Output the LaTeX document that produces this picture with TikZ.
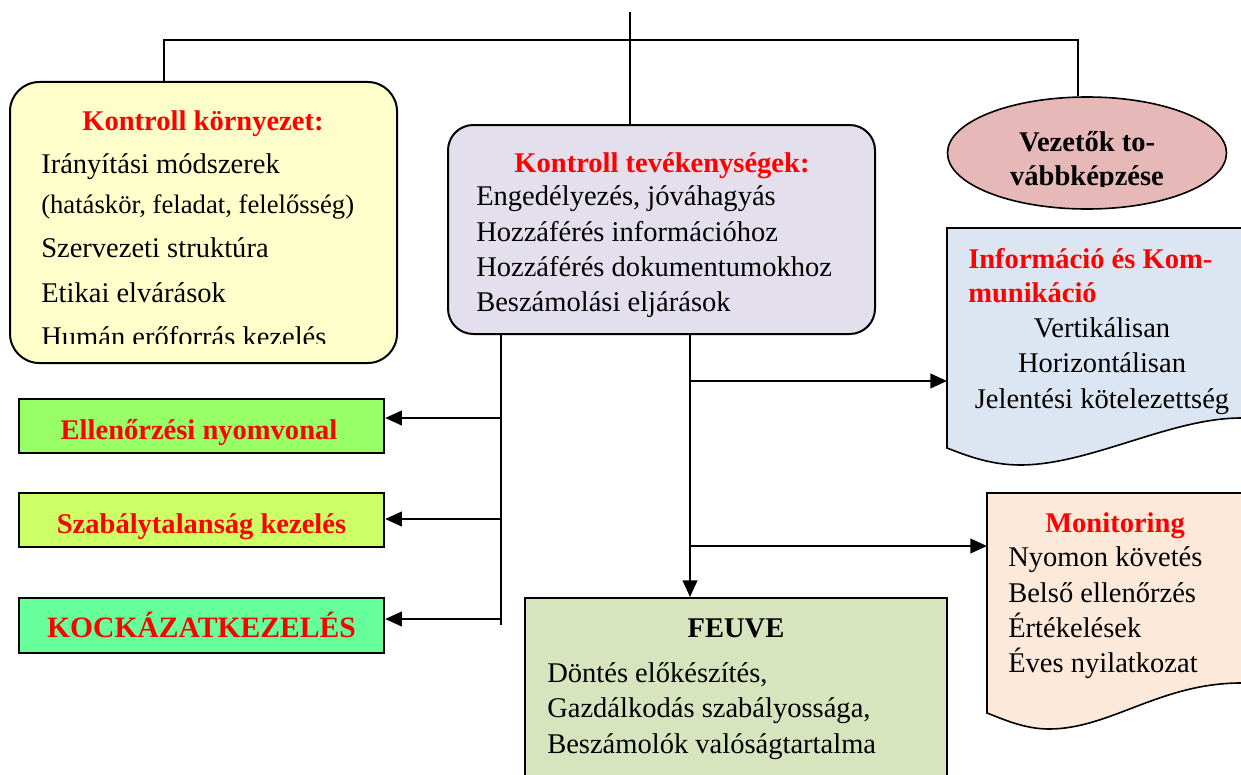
\documentclass[tikz,border=0pt]{standalone}
\usepackage{fontspec}
\setmainfont{Liberation Serif}
\usetikzlibrary{arrows.meta,shapes.geometric}
\definecolor{kred}{HTML}{FF0000}
\definecolor{envc}{HTML}{FFFFCC}
\definecolor{actc}{HTML}{E4DFEC}
\definecolor{gA}{HTML}{99FF66}
\definecolor{gB}{HTML}{CCFF66}
\definecolor{gC}{HTML}{66FF99}
\definecolor{vezc}{HTML}{E6B9B8}
\definecolor{infoc}{HTML}{DCE6F2}
\definecolor{monc}{HTML}{FDE9D9}
\definecolor{feuvec}{HTML}{D7E4BD}
\begin{document}
\begin{tikzpicture}[x=0.75pt,y=-0.75pt,
  box/.style={draw=black, line width=1.5pt, inner sep=0pt},
  gbox/.style={box, line width=1.8pt, minimum width=273.75pt, minimum height=40.5pt},
  txt/.style={inner sep=0pt, anchor=base west, font=\fontsize{21.4}{25}\selectfont},
  ctxt/.style={txt, anchor=base},
  ttl/.style={inner sep=0pt, anchor=base, font=\fontsize{21.4}{25}\selectfont\bfseries, text=kred},
  thin/.style={line width=1.1pt},
  arr/.style={line width=1.5pt, -{Triangle[length=12.5pt,width=11pt]}}]
\clip (0,0) rectangle (1241,774);
\fill[white] (0,0) rectangle (1241,774);

% boxes
\node[box, fill=envc, rounded corners=22pt, minimum width=290.25pt, minimum height=210.75pt] (env) at (203.5,222.5) {};
\node[box, fill=actc, rounded corners=19pt, minimum width=320.25pt, minimum height=156.75pt] (act) at (661.5,229.5) {};
\node[box, ellipse, line width=1.2pt, fill=vezc, minimum width=209.25pt, minimum height=84pt] (vez) at (1087,153) {};
\node[gbox, fill=gA] (g1) at (201.5,426) {};
\node[gbox, fill=gB] (g2) at (201.5,520) {};
\node[gbox, fill=gC, minimum height=41.25pt] (g3) at (201.5,625.5) {};
\node[box, fill=feuvec, minimum width=316.5pt, minimum height=151.5pt] (feuve) at (736,699) {};

% document shapes
\draw[line width=1.2pt, fill=infoc] (947,228) -- (1260,228) -- (1260,418) -- (1241,418)
  .. controls (1170,418) and (1090,465) .. (1020,465)
  .. controls (990,465) and (965,455) .. (947,448) -- cycle;
\draw[line width=1.2pt, fill=monc] (987,493) -- (1260,493) -- (1260,683) -- (1241,683)
  .. controls (1160,683) and (1110,729) .. (1049,729)
  .. controls (1025,729) and (1005,720) .. (987,713) -- cycle;
\coordinate (infoL) at (947,381);
\coordinate (monL) at (987,546);

% top connectors
\coordinate (top) at (630,12);
\coordinate (hl) at (164,40);
\coordinate (hr) at (1078,40);
\draw[thin] (top) -- (top |- act.north);
\draw[thin] (hl |- env.north) -- (hl) -- (hr) -- (hr |- vez.north);

% lower connectors
\coordinate (bl) at (501,625);
\coordinate (br) at (690,381);
\draw[line width=1.5pt] (bl |- act.south) -- (bl);
\draw[arr] (501,418) -- (g1.east |- 501,418);
\draw[arr] (501,519) -- (g2.east |- 501,519);
\draw[arr] (501,619) -- (g3.east |- 501,619);
\draw[arr] (br |- act.south) -- (br |- feuve.north);
\draw[arr] (br) -- (infoL);
\draw[arr] (br |- monL) -- (monL);

% texts: Kontroll környezet
\node[ttl] (envT) at (203,130) {Kontroll környezet:};
\node[txt] (env1) at (41,173) {Irányítási módszerek};
\node[txt, font=\fontsize{20}{24}\selectfont] (env2) at (41,213) {(hatáskör, feladat, felelősség)};
\node[txt] (env3) at (41,257) {Szervezeti struktúra};
\node[txt] (env4) at (41,302) {Etikai elvárások};
\begin{scope}
\clip (0,0) rectangle (1241,343.5);
\node[txt] (env5) at (41,346) {Humán erőforrás kezelés};
\end{scope}

% Kontroll tevékenységek
\node[ttl] (actT) at (662,172) {Kontroll tevékenységek:};
\node[txt] (act1) at (476,205) {Engedélyezés, jóváhagyás};
\node[txt] (act2) at (476,241) {Hozzáférés információhoz};
\node[txt] (act3) at (476,276) {Hozzáférés dokumentumokhoz};
\node[txt] (act4) at (476,311) {Beszámolási eljárások};

% green boxes
\node[ttl] (g1T) at (199,439) {Ellenőrzési nyomvonal};
\node[ttl] (g2T) at (201.5,533) {Szabálytalanság kezelés};
\node[ttl, font=\fontsize{22.2}{26}\selectfont\bfseries] (g3T) at (201.5,637) {KOCKÁZATKEZELÉS};

% ellipse
\node[ttl, text=black] (vezT1) at (1087,151) {Vezetők to-};
\begin{scope}
\clip (0,0) rectangle (1241,186);
\node[ttl, text=black] (vezT2) at (1087,185) {vábbképzése};
\end{scope}

% info
\node[ttl, anchor=base west] (infT1) at (968,268) {Információ és Kom-};
\node[ttl, anchor=base west] (infT2) at (968,302) {munikáció};
\node[ctxt] (inf1) at (1102,337) {Vertikálisan};
\node[ctxt] (inf2) at (1102,372) {Horizontálisan};
\node[ctxt] (inf3) at (1102,408) {Jelentési kötelezettség};

% monitoring
\node[ttl] (monT) at (1115,532) {Monitoring};
\node[txt] (mon1) at (1008,566) {Nyomon követés};
\node[txt] (mon2) at (1008,602) {Belső ellenőrzés};
\node[txt] (mon3) at (1008,637) {Értékelések};
\node[txt] (mon4) at (1008,672) {Éves nyilatkozat};

% FEUVE
\node[ttl, text=black] (feT) at (736,637) {FEUVE};
\node[txt] (fe1) at (547,682) {Döntés előkészítés,};
\node[txt] (fe2) at (547,717) {Gazdálkodás szabályossága,};
\node[txt] (fe3) at (547,753) {Beszámolók valóságtartalma};
\end{tikzpicture}
\end{document}
